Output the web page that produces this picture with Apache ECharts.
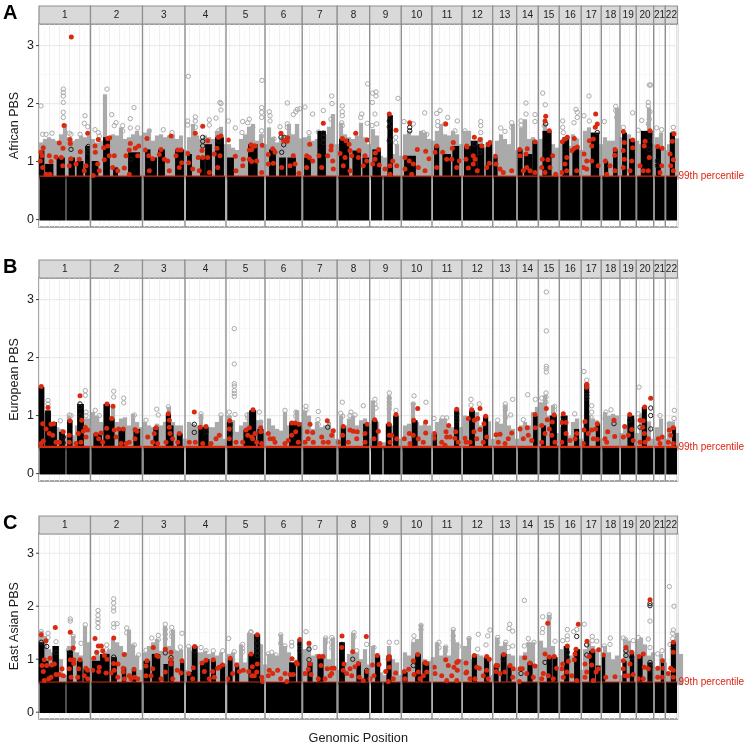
<!DOCTYPE html>
<html><head><meta charset="utf-8">
<script src="https://cdn.jsdelivr.net/npm/echarts@6/dist/echarts.min.js"></script>
<style>html,body{margin:0;padding:0;background:#fff}#c{width:744px;height:746px}</style></head>
<body><div id="c"></div>
<script>
const chromLabels=['1','2','3','4','5','6','7','8','9','10','11','12','13','14','15','16','17','18','19','20','21','22'];
const chromEnds=[51.5,103.5,146,187,226,263.2,298.2,330.7,362.3,393,423,453.7,477.7,499.3,520.3,542.3,562.3,581,597.3,614.7,626.3,638.5];
const armSegments=[[0.5,26.7],[27.3,50.8],[52.3,102.8],[104.5,145],[147,186],[188.2,225.2],[227,262.6],[264.2,297.7],[299.4,330],[332,343.5],[344.5,361.7],[363.4,392.4],[394,422.5],[424,453],[454.6,477],[478.6,498.8],[500.4,519.7],[521.2,541.7],[543.2,561.7],[563.3,580.4],[582,596.8],[598.2,614],[615.6,625.8],[627.2,638]];
const axisSpan=638.5, binStep=4;

const africanThreshold=0.75, europeanThreshold=0.46, eastAsianThreshold=0.57;

const africanGrayTops=[1.33,1.39,1.42,1.39,1.36,1.47,1.65,1.42,1.36,1.39,1.45,1.42,1.45,
1.39,1.33,1.36,2.16,1.42,1.47,1.45,1.59,1.39,1.42,1.47,1.53,1.45,
1.5,1.56,1.36,1.45,1.47,1.42,1.45,1.47,1.39,1.45,1.2,
1.42,1.65,1.45,1.39,1.45,1.42,1.39,1.53,1.6,1.3,
1.3,1.24,1.2,1.39,1.47,1.6,1.65,1.36,1.47,1.3,
1.59,1.42,1.33,1.42,1.45,1.65,1.47,1.65,1.4,
1.42,1.45,1.36,1.39,1.47,1.47,1.6,1.82,1.3,
1.67,1.47,1.42,1.39,1.45,1.67,1.42,1.3,
1.56,1.45,1.1,1.07,1.42,1.13,1.3,1.1,
1.47,1.53,1.45,1.45,1.53,1.5,1.39,
1.36,1.53,1.65,1.47,1.45,1.53,1.47,1.3,
1.53,1.53,1.27,1.36,1.42,1.24,1.27,1.1,
1.36,1.47,1.39,1.3,1.65,1.2,
1.59,1.73,1.39,1.42,1.3,
1.39,1.65,1.53,1.3,1.24,
1.3,1.24,1.27,1.47,1.4,1.2,
1.53,1.59,1.47,1.47,1.3,
1.42,1.36,1.36,1.93,
1.42,1.42,1.47,1.3,
1.36,1.3,1.39,1.93,1.3,
1.42,1.5,1.2,
1.3,1.53,1.4];
const africanBlackTowers=[[1,4.5,1.19],[7,13.5,.96],[18.5,25,1.07],[30.5,35,1.07],[38.5,43.5,1.01],[47,51,1.27],
[53.5,58.5,1.01],[65,70,1.42],[75,78,.9],[90,100,1.16],
[107,110.5,1.21],[112,117,1.07],[120,125,1.21],[137,144,1.21],
[149,152,1.13],[162,165,1.07],[167,172,1.3],[177,184,1.42],
[189,194,1.07],[210,217,1.3],
[212,217.7,1.3],[231,236,1.21],[241,246,1.07],[249.3,256,1.07],[266,271,1.07],[279.3,286,1.53],
[301,309.3,1.39],[314.3,321,1.19],[324.3,329.3,1.07],[334.3,341,1.21],[349.3,353,1.8],[366,376,1.1],
[396,399.3,1.27],[404.3,411,1.13],[414.3,419.3,1.27],[426,431,1.27],
[426,429.3,1.27],[432.7,437.7,1.36],[439.3,444.3,1.3],[447.7,452.7,1.33],[454.3,457.7,1.1],
[479.3,482.7,1.21],[486,492.7,1.13],[494.3,497.7,1.36],[504.3,511.7,1.53],[524.3,529.3,1.42],[534.3,539.3,1.24],[552.7,559.3,1.5],[566,568.3,1.01],[575,577.7,1.21],[584,587,1.5],[591,595,1.39],[602.7,612.7,1.53],[617.7,621,1.24],[631.7,635,1.5]];
const africanRed=[[32.3,3.15],[25,1.62],[20.3,1.32],[31,1.38],[31.3,1.31],[24,1.23],[4.3,1.24],[2,1.16],[3,1.1],[1.3,1.01],[3.7,.9],[10.3,1.1],[17,1.08],[12,1],[22.3,1.07],[32,1.05],[40.3,1.04],[41.3,1.17],[48.7,1.49],[37,.96],[47,.93],[45.3,.84],[7,.78],[11,.78],[23.7,.93],[30.3,.93],
[59.3,1.38],[56,1.27],[56.3,1.16],[64.7,1.24],[68.7,1.4],[70.7,1.41],[68.7,1.27],[65.3,1.03],[75.3,1.1],[70.3,1.1],[58.7,.96],[60.3,.84],[73.7,.9],[78.7,.84],[87,1.1],[91.3,1.31],[96.3,1.23],[99.7,1.27],[90.3,1.2],[98.7,1.1],[85.3,.89],[90.3,.78],[54.3,.76],
[108,1.4],[106.3,1.2],[109.7,1.1],[113.7,1.05],[122,1.21],[120.3,1.12],[132,1.44],[128.7,1.01],[125.3,1.04],[137,1.1],[142,1.2],[138.7,1.2],[142.7,.98],[110.3,.84],[130.3,.84],[140.3,.9],
[156.3,1.49],[163.7,1.61],[168.7,1.36],[163,1.19],[159.3,1.07],[148.7,1.14],[149.7,.98],[182,1.44],[179.3,1.42],[178,1.23],[181,1.1],[175.3,1.13],[168.7,1.07],[163.7,1.07],[153.7,.87],[170.3,.81],[178.7,.9],[160.3,.84],
[189.3,1.37],[196.3,1.09],[212,1.29],[215.3,1.27],[210.3,1.2],[204.3,1.04],[210.3,1.04],[197,.84],[203.7,.93],
[216,1.27],[212.7,1.21],[223.3,1.28],[217.7,1.01],[212.7,1],[222.7,.81],[233.7,1.22],[229.3,1.12],[236,1.16],[229.3,.96],[234.3,.97],[242,1.49],[244.7,1.36],[248.7,1.41],[248.3,1.35],[254.3,1.1],[251,.93],[256,.96],[242.7,.9],[260,.8],
[270.7,1.3],[267.7,1.1],[270.3,1.07],[273.7,1.01],[267.7,.9],[284.3,1.66],[292.3,1.27],[292,1.2],[280,1.1],[288.7,1.1],[293.7,1.01],[282.7,.9],[294.3,.87],
[303.3,1.4],[307,1.36],[310,1.3],[301,1.14],[311,1.19],[306,1.07],[312.7,1.1],[320,1.19],[316.7,1.49],[328.3,1.37],[319.3,1.07],[326,1.1],[327.7,1.01],[304.3,.93],[311,.84],[324.3,.93],
[339.7,1.21],[336.3,1.15],[336,1.04],[340.3,.94],[333.7,.96],[350.3,1.82],[357,1.54],[353.7,1.01],[351,.93],[346,.87],[357.7,.93],[351,.78],
[370.7,1.67],[378.3,1.21],[366,1.07],[370.3,1.01],[374.3,.96],[366,.87],[379.3,.9],[372.7,.78],[386.7,1.18],[390,1.05],[386,.84],
[406.7,1.65],[397.7,1.27],[396,1.16],[403.7,1.16],[413.3,1.23],[414.3,1.33],[412.7,1.04],[407.7,1.04],[397.7,.9],[420.3,1.01],[417.7,.9],[428,1.25],[427,1.04],[429.3,.89],
[427.7,1.27],[435.3,1.42],[441,1.38],[442.7,1.27],[434.3,1.1],[436,1.04],[434.3,.96],[447.7,.9],[451,1.33],[449.3,1.29],[450.3,.97],[438.3,.84],
[456.3,1.09],[457,.96],[461,.87],[472.7,.84],[464.3,.81],
[480.7,1.21],[488.3,1.22],[481,1.1],[496,1.34],[487,1.13],[487.7,.9],[484.3,.84],[496,.81],[491,.84],
[506.7,1.78],[506,1.7],[510.3,1.53],[503.3,1.04],[509,1.03],[513.7,1.1],[502.7,.9],[511,.9],[506,.81],[516.7,.78],
[528.3,1.42],[526.3,1.39],[523.3,1.34],[535.3,1.4],[538.3,1.25],[533,1.19],[535.3,1.23],[527.7,1.07],[526,.96],[527.7,.84],[537.7,.84],[522.7,.81],
[556.7,1.82],[558.3,1.65],[556.3,1.59],[554.3,1.39],[550.3,1.36],[552.7,1.27],[545,1.13],[547.7,1.01],[552.7,1.01],[547.7,.87],[559.3,.93],[544.3,.9],
[566.3,1.01],[576,1.21],[575.7,1.11],[571,.93],[567.7,.78],[576,.84],
[584.3,1.52],[585.3,1.33],[593.7,1.37],[593.7,1.24],[584.3,1.19],[585.3,1.04],[592.7,1.01],[584.3,.9],[591,.84],
[611,1.53],[606,1.35],[605.3,1.27],[601,.93],[610.3,1.07],[604.3,.84],[609.3,.84],
[618.7,1.26],[623.3,1.23],[622.7,.93],[621,.81],
[635,1.48],[633.3,1.35],[631,1.13],[634.3,1.03],[631.7,.93],[634.3,.84]];
const africanGrayRings=[[2,1.96],[3.7,1.47],[7,1.47],[13,1.49],[24.3,2.25],[24.3,2.19],[24.3,2.13],[24.3,2.02],[24.3,1.85],[24.3,1.76],[30.3,1.49],[32,1.47],[46,1.79],[45.3,1.66],[48.7,1.6],[41,1.47],
[68,2.25],[72.7,1.81],[77,1.67],[75.3,1.62],[83.7,1.62],[83.7,1.53],[91.3,1.74],[95,1.93],[91.3,1.58],[98.7,1.58],[56,1.55],[59.3,1.5],[60.3,1.44],
[110.3,1.53],[124.3,1.55],[133,1.5],
[149.3,2.47],[148.7,1.7],[148.7,1.63],[156.3,1.77],[156.3,1.7],[156.3,1.59],[170.3,1.72],[170.3,1.63],[177,1.75],[181,2.02],[182,2],[182,1.89],[179.7,1.53],
[189.3,1.7],[196.3,1.58],[203.7,1.69],[208.7,1.67],[203,1.5],[210.3,1.73],[213.7,1.59],
[223,2.4],[222.7,1.93],[222.7,1.85],[222.7,1.76],[222.7,1.53],[222.7,1.44],[230.3,1.86],[231,1.79],[231,1.7],[235,1.39],[241,1.6],[248.3,2.01],[248.3,1.65],[248.3,1.59],[254.3,1.81],[256.7,1.86],[258.3,1.9],[261,1.91],[266,1.94],[273.7,1.82],[270,1.5],[279.3,1.51],[284.3,1.88],[292.7,2.13],[293,2],[292,1.73],[303.3,1.96],[303.3,1.86],[303.3,1.79],[302.7,1.67],[303.3,1.62],[322.7,1.82],[321.7,1.76],[328.3,1.66],[328.7,2.34],[337,2.2],[333.7,2.18],[337,2.13],[333.3,2.02],[336,1.82],[337.7,1.65],[333,1.62],[359,2.09],[356.7,1.42],[356.7,1.33],[365,1.69],[374.3,1.65],[385.7,1.84],[384.3,1.5],[387.7,1.47],[398.7,1.69],[398.7,1.62],[401,1.88],[397.7,1.83],[408.7,1.76],[418.3,1.7],[416,1.53],[406,1.65],
[426,1.53],[441.7,1.69],[441.7,1.62],[441.7,1.5],[461.7,1.58],[466,1.52],[472.7,1.67],[472.7,1.59],[487,2.01],[487,1.82],[482,1.7],[482,1.63],[496,1.81],[496,1.69],[503.7,2.18],[506.3,1.98],[505.3,1.62],[523.7,1.7],[523.7,1.59],[524.3,1.5],[537,1.9],[538.3,1.85],[538.3,1.76],[535,1.67],[545,1.79],[550.3,1.7],[550,2.13],[565.3,1.69],[576.7,1.95],[576.7,1.88],[577.7,1.76],[593.7,1.84],[584.3,1.59],[602.7,1.71],[599.3,1.54],[610.3,2.32],[611.7,2.32],[609.3,2.02],[609.3,1.96],[611,1.86],[610.3,1.73],[609.3,1.65],[622.7,1.55],[617.7,1.58],[634.3,1.59]];
const africanBlackRings=[[32,1.21],[49.3,1.26],[49.3,1.16],[92,1.04],[163.7,1.42],[163.7,1.35],[163.7,1.27],[179.7,1.35],[245,1.42],[242,1.42],[244.7,1.29],[242.7,1.16],[284.3,1.49],[284.3,1.42],[284.3,1.33],[350.3,1.7],[350.3,1.6],[370.7,1.59],[370.7,1.53],[350.3,1.36],[435.3,1.3],[441,1.16],[506.7,1.65],[610.3,1.36],[610.3,1.21],[610.3,1.07],[618.3,1.01],[618.3,.93],[558.3,1.5]];

const europeanGrayTops=[1.06,1.05,1.06,.83,.8,.77,.66,1,.66,.83,.95,.95,.95,
1.06,1,.89,.83,.89,1.18,.89,.95,.97,.83,1.03,.89,.8,
.89,.83,.8,.86,.83,.89,1.15,.89,.83,.83,.6,
.89,.86,.83,1.03,.83,.8,.8,.89,1,.6,
1,.92,.72,.83,.89,1.06,1,.92,.92,.7,
.95,.83,.77,.74,1.06,.83,.89,1.09,.8,
1.09,1,.77,.89,.8,.83,.89,.77,.6,
1,.83,.95,1,.83,.92,.95,.6,
1.26,.89,.54,.54,1.35,.83,1,.6,
.83,.86,1.23,.89,.83,.89,.83,
.7,.89,.95,.95,.83,.8,1.06,.8,
1,.97,.95,1.06,.83,1,.9,.6,
.89,.86,1.18,.83,.77,.6,
.83,.89,.83,1.06,1.15,
1.23,1.35,1,1.18,.7,
.8,1,.66,.89,.95,.6,
.89,1,.95,.9,.6,
1.06,1,1.03,1,
.7,.8,.9,.95,
.7,1.03,.9,.9,.6,
.8,.95,.6,
.89,.9,.7];
const europeanBlackTowers=[[.5,4.5,1.49],[7,11,1.09],[12,17,.89],[21,25,.72],[29,32.7,.92],[39,44,1.2],
[55.3,62,.69],[65.3,70,1.2],[70.3,74.7,.95],[80.3,85.3,.77],[95.3,100.3,.77],
[115.3,118.7,.8],[127.7,131,1.03],[130.3,133.7,.83],[138.7,142.7,.69],
[160.3,168.7,.8],[188.7,192.7,.89],[205.3,210.3,.75],[212,216.3,1.09],
[211,216,1.09],[219.3,223.7,.77],[251,262,.88],[302.7,306,.8],[325,330.3,.86],[333.7,337.7,.92],[347.7,351.7,.86],[355,358.7,1],[373.7,377.7,.92],[393.7,397,.69],[416,419.3,1.09],
[431,435,1.09],[445,448.3,.98],[495,498.3,1],[503,506,.83],[511.7,517,1],[522.7,527.7,1],[536,539.3,.77],[546,549.3,1.55],[557.7,560.3,.86],[589.3,594.3,1],[603.7,607,1.15],[634,636,.8]];
const europeanRed=[[2.3,1.5],[3.7,.86],[9,1.14],[7,.77],[12,.85],[14.7,.86],[10.3,.69],[13.7,.66],[4.3,.56],[2,.52],[17,.54],[24.3,.72],[20.3,.54],[31,.91],[30.3,.66],[30.3,.54],[41,1.34],[42.7,.92],[39.3,.69],[46.3,.8],[48.7,.75],[44.3,.73],[47,.63],[37,.52],[42,.54],
[68,1.2],[74,1.16],[72.7,.95],[67.7,.78],[57,.68],[62,.7],[59.7,.6],[75.3,.75],[79.7,.77],[84.3,.77],[77,.63],[68.7,.63],[82,.52],[96,.76],[98,.73],[96,.6],[90.3,.54],[63.7,.54],[87,.52],
[117,.79],[129.3,1.03],[130.3,.92],[130.3,.8],[131,.69],[115.3,.69],[140.3,.69],[133.7,.6],[108.7,.63],[113.7,.54],[127,.54],[138.7,.54],[118.7,.52],
[155.3,1.06],[161.3,.8],[167,.81],[156.3,.54],[150.3,.54],[163.7,.52],[180.3,.66],[177,.6],[172,.52],
[190.7,.91],[190.3,.77],[190.3,.6],[197,.54],[207,.75],[210.3,.79],[214,1.1],[208.7,.66],[213.7,.6],[203.7,.54],
[221.7,.79],[221.7,.72],[216,.69],[212.7,.63],[217.7,.54],[222.7,.52],
[229.3,.69],[231,.6],[234.3,.6],[236,.54],[246,.52],[252.7,.87],[256,.87],[260,.85],[256.7,.72],[252.7,.66],[249.3,.57],[259.3,.54],
[271,.85],[268.3,.72],[273.7,.71],[269.3,.6],[266,.54],[274.3,.54],[288.3,.91],[294.3,.74],[292.7,.66],[282.7,.63],[289.3,.54],[284.3,.54],
[304.3,.81],[311,.75],[314.3,.73],[318.3,.72],[303.7,.66],[317.7,.6],[309.3,.54],[326,.69],[328.3,.85],[326,.54],[299.3,.54],
[335.7,.93],[339.3,.73],[335,.6],[341,.52],[350,.85],[357,1.02],[350.3,.66],[352.7,.66],[351,.54],[357.7,.6],
[374.7,.92],[378.7,1.12],[386.7,.89],[386.7,.7],[370.3,.69],[365.3,.6],[374.3,.66],[379.3,.6],[384.3,.54],[371,.52],
[395.3,.69],[395,.61],[407,.72],[409.7,.83],[402.7,.54],[407.7,.63],[411,.63],[406,.49],[417.7,1.11],[416.7,.72],[416,.61],[419.3,.54],
[429.3,.95],[426,.61],[427,.54],[432.7,1.1],[435.3,.92],[438.7,.95],[441,1.12],[445,.86],[446.7,.99],[435,.72],[441,.76],[437.7,.6],[447.7,.63],[444.3,.54],[431,.54],
[457,.67],[461,.68],[472.7,.7],[469.3,.6],[459.3,.54],[466,.52],
[481,.77],[488.3,.79],[496,1.02],[496.3,.79],[489.3,.66],[484.3,.6],[492.7,.57],
[507.3,1.12],[508.3,.93],[515.3,1.01],[513.3,.89],[502.7,.83],[510.3,.77],[506,.69],[512.7,.66],[502.7,.54],[516,.54],
[524.3,1.03],[522.7,.88],[527,.88],[527,.69],[531,.57],[522.7,.54],[537.7,.69],[536,.6],
[547.7,1.54],[547.7,1.49],[546,.9],[545,.75],[549.3,.69],[552.7,.75],[556.7,.77],[558.3,.86],[558.3,.59],[554.3,.6],[544.3,.52],
[568.7,.72],[566,.6],[567.7,.54],[575,.92],[575.7,.64],
[585.7,.81],[590.7,1.02],[592.7,.76],[584.3,.63],[589.3,.66],[594.3,.57],
[605.7,1.15],[611.7,1.3],[601,.92],[604.3,.91],[603.7,.8],[605.3,.69],[601,.54],[609.3,.6],[606,.54],
[619.3,.6],[623.3,.63],[621,.52],[634.3,.79],[630.3,.75],[631.7,.66],[629.3,.54],[634.3,.52]];
const europeanGrayRings=[[9,1.26],[9,1.2],[21.3,.91],[30.3,1.01],[32,1],[46.3,1.43],[46.3,1.35],[47,1.06],[47,1],[56.3,1.09],[60.3,1],[74.7,1.42],[74.7,1.32],[84.7,1.3],[84.7,1.22],[95.3,1.01],[117.7,1.11],[119.3,1.01],[107,.92],[129.3,1.15],[162,1.03],[162,.96],[182,1.01],[190.3,1.06],[196,1.02],[195.3,2.5],[195.3,1.89],[195.3,1.55],[195.3,1.51],[195.3,1.43],[195.3,1.38],[195.3,1.33],[190.3,.97],[208,1.01],[208.7,.96],
[220.3,1.06],[221.7,.89],[246,1.09],[257,1.06],[256.7,.99],[267,1.16],[267,1.09],[279.3,1.07],[279,.93],[279.3,.85],[303.3,1.23],[301.7,1.04],[303.7,.99],[312,1.06],[311,1],[316,1.01],[324.3,1.17],[336,1.28],[336,1.2],[337,1.13],[350.3,1.39],[350.3,1.3],[350.3,1.23],[350.3,1.18],[350.3,1.12],[357,1.09],[375,1.34],[374.3,1.2],[387,1.23],[395,.95],[403.7,.96],[407.7,.96],
[432,1.28],[432,1.18],[440.3,1.2],[466.3,1.2],[466.3,1.15],[466.3,1.1],[466.7,.97],[471.7,1.01],[473.7,1.28],[458.7,.92],[484.3,.93],[488.7,1.36],[496.3,1.28],[502.7,1.3],[507.3,3.13],[507.3,2.46],[507.3,1.85],[507.3,1.81],[507.3,1.75],[507,1.39],[507,1.32],[507,1.23],[515.7,1.16],[515.7,1.09],[535.7,1.03],[545,1.76],[547.7,1.61],[552.7,1.17],[552.7,1.06],[552,.97],[557.7,.88],[567,1.06],[572,1.1],[566,.95],[575,.97],[600,1.49],[599.3,1.03],[621,1],[635.3,1.09],[635,.95],[630.3,.86]];
const europeanBlackRings=[[41,1.2],[41,1.15],[41,1],[24.3,.53],[24.3,.63],[288.7,.8],[155.3,.85],[155.3,.71],[167,.72],[191,.84],[191,.69],[575,.86],[590.7,.92],[601,.8],[611.7,1.13],[611.7,1],[611.7,.77],[524.3,.97],[417.7,.92],[417.7,1.03],[547.7,1.4],[547.7,1.35],[547.7,1.3]];

const eastAsianGrayTops=[1.53,1.44,1.19,1.13,1.07,1,.7,1.25,1.44,1.13,1.07,1.63,1.32,
1,1.13,1.07,1.13,1.19,1.38,1.32,1.25,1.13,1.56,1.28,1.07,.8,
1.13,1.25,1.32,1.38,1.16,1.63,1.25,1.56,1.16,1.19,.8,
1.22,1.16,1.13,1.13,1.16,1.1,1.13,1.07,1.13,.9,
1.1,1.13,.94,1.28,.94,1.5,1.47,1.19,1.28,.9,
1.1,1.1,1.07,1.47,1.25,1.13,.94,.94,.9,
1.19,1.28,1.07,1.1,1.1,1.41,1,1.41,.8,
1.25,.94,1.1,1.5,1.13,1,1.19,.9,
1.25,1.1,.75,.7,1.25,1,.94,.7,
1.13,1.07,1.32,1.38,1.66,1,.97,
1.04,1.32,1.07,1.25,1.07,1.56,1.32,1,
1.25,1.41,1,1.1,1.07,1.04,.97,.7,
1.41,1.25,1.32,1.1,1.07,
.8,1.07,1.13,1.32,1.32,.9,
1.35,1.22,1.84,1.25,.8,
1.19,1.25,1.07,1.07,1.07,.8,
1.19,1.32,1.25,1.19,.8,
1.25,1.13,1,1.07,.7,
1.38,1.35,1.07,1.35,
1.41,1.28,1.07,1.13,.8,
1.1,.94,.7,
1.28,1.5,1.1];
const eastAsianBlackTowers=[[.5,4.5,1.32],[5.5,8.7,.97],[9.7,13,.88],[14.3,19,1.25],[28.7,33,1.16],[38.7,42.7,.97],[45.3,50.3,.82],
[53.7,62,.97],[62,69.7,1.1],[73,77,1.04],[83.7,86.3,.85],[93.7,96.3,.79],
[105.3,110.3,.97],[113.7,120.3,1.1],[125.3,128,.91],[130.3,133.7,.97],[142,144.7,.97],
[148.7,152,.76],[153.7,157.7,1.25],[162,165.3,.94],[167,169.7,1],[173,176,.97],[182,185.3,.91],
[189.7,192.7,1],[197,199.3,.88],[210.3,215.3,1.1],
[211,212.7,1.07],[216,220.3,1.47],[251,256,.94],[259.3,262.7,1.38],[269.3,272.7,.94],[279.3,283.7,1.07],[301,305,1.32],[318.3,321,.94],[326,328.7,.79],[337,340.3,1.07],[348.3,351.7,1.07],[364.3,367.7,.76],[377,381,1.1],[384.3,389.3,.94],
[433.7,437,1.07],[446,449.3,1.04],[455.3,458.7,.88],[462.7,466.7,1.1],[469.3,471.7,.88],[489.3,492.7,.94],[508.7,512,1.04],[514.3,517.7,1.04],[526,529.3,1.25],[536,540.3,1.19],[551,555.3,1.16],[557.7,561,.88],[563.3,565.3,1.07],[584.3,586.7,.97],[591.7,594.3,1.13],[599.3,602.7,1.07],[609.3,612.7,.94],[622.7,624.3,.97],[632.7,636,1.32]];
const eastAsianRed=[[2.3,1.46],[7,1.35],[16.3,1.6],[3,.88],[5.3,.99],[7.7,.88],[11,1.02],[12.7,.89],[15.3,.91],[23,.82],[4.3,.77],[12,.66],[17,.71],[20.3,.71],[9.7,.63],[5.3,.6],[24.3,.69],[31.3,1.51],[34.3,1.21],[31.3,.99],[34.7,.99],[34.7,.92],[41,.99],[30.3,.82],[39.7,.82],[47,.83],[48.7,.79],[32,.66],[38.7,.66],[45.3,.69],[48.7,.63],
[56,1.39],[74.7,1.4],[85.3,1.09],[59.3,1.25],[62.3,1.25],[57.7,1.13],[54.7,1.02],[63.7,1.16],[65.3,1.07],[68,1],[74.7,.92],[79,.91],[60.3,.85],[53.7,.79],[59.7,.77],[67,.74],[72,.74],[75.3,.79],[84.3,.83],[84.3,.76],[95,.81],[90.3,.69],[85.3,.63],[95.3,.66],[98.7,.63],[78.7,.66],[92,.63],
[114.3,1.22],[126.3,1.19],[117.7,1.07],[119.3,1.05],[108,.97],[107,.87],[132,1.13],[132,.99],[132,.91],[143,.97],[113.7,.82],[126.3,.76],[138.3,.79],[142,.74],[112,.69],[107,.69],[122,.63],[133.7,.63],
[155.7,1.24],[163,.93],[167,.98],[174.3,.99],[183.7,.89],[149.7,.73],[154.3,.84],[165.3,.77],[178.7,.83],[173.7,.77],[180.3,.85],[153.7,.63],[170.3,.63],[175.3,.66],
[191.3,1.02],[197.7,.89],[200.3,.77],[204.3,.79],[209.7,.77],[212,1.1],[193.7,.73],[188.7,.63],[215.3,.69],
[218.3,1.46],[213.3,.86],[218.3,.91],[217.7,.76],[212.7,.69],[222.7,.66],[223.7,.58],
[230.3,.79],[229.3,.69],[233.7,.73],[238.7,.79],[246,.73],[241.7,.63],[247.7,.58],[253,1.01],[257.3,.94],[261,1.37],[258.3,.91],[251,.71],[254.3,.71],
[270,1.3],[271,.91],[269.3,.81],[266,.73],[272,.71],[280,1.05],[284,1.05],[282,.88],[288.3,.82],[292.7,.83],[295.3,.83],[292.7,.73],[279.3,.63],[286,.63],[291,.69],
[303,1.44],[302.7,1.22],[305,.91],[304.3,.79],[311,.82],[307.7,.73],[313.7,1.14],[316,.86],[319.3,.92],[312.7,.69],[320.3,.66],[327.3,1.43],[328.3,.77],[324.3,.6],
[333.3,.89],[338.3,1.07],[340,.9],[335,.69],[331,.63],[346.7,.77],[350.3,1.05],[349.3,1],[350.3,.85],[356.7,.74],[354.3,.63],[349.3,.58],
[365.3,.77],[369.7,.81],[374.3,.97],[378.7,1.09],[375,.71],[366,.63],[379.3,.76],[381,.63],[386,.94],[387.7,.92],[387.7,.76],[384.3,.69],
[395.3,.85],[406.7,.99],[417.7,.94],[419.3,.96],[409.3,.88],[415,.85],[418.3,.79],[396,.73],[402.7,.69],[412.7,.69],[407.7,.6],[417.7,.6],[427,.93],[427.7,.76],
[427,.74],[435.3,1.07],[437.7,.85],[440.3,.83],[431,.63],[436,.63],[444.3,.69],[447.7,1.05],[450.3,1],[447.7,.79],[449.3,.63],
[457,.88],[458.7,.88],[457,.77],[461,.73],[464.7,1.09],[466,.76],[471,.88],[474.3,.82],[473.7,.66],[480.3,.58],
[481,.82],[483.3,.82],[485.7,1.03],[487.7,.73],[491,.93],[496,.87],[494.3,.66],
[508.7,1.68],[506,1.1],[510.3,1.04],[515.3,1.05],[517.7,.83],[504.3,.73],[509.3,.69],[514.3,.63],[502.7,.63],
[539.3,1.66],[528.3,1.25],[523.7,.91],[529.3,.96],[522.7,.82],[537,1.19],[536,1.1],[535.3,.99],[527.7,.76],[537.7,.6],[532.7,.69],[524.3,.66],
[548,1.34],[553.7,1.16],[559.7,1.18],[550.3,1.05],[546,.91],[552.7,.89],[559.3,.82],[547.7,.76],[557,.76],[546,.66],[554.3,.6],
[564.3,1.08],[566.7,.66],[576,.67],
[584.3,.97],[587,1.22],[584.3,.82],[586,.69],[592.7,1.13],[591,.91],[594.3,.71],[589.3,.69],
[611,2.12],[604.3,1.1],[600,1.05],[605.3,.85],[609.3,.82],[599.3,.63],[604.3,.63],
[618.7,.83],[623.7,.97],[624.3,.83],[618.7,.66],[623.3,.66],
[634.3,1.32],[634.3,1.13],[631.7,.83],[634.3,.79],[629.3,.73],[634.3,.66]];
const eastAsianGrayRings=[[2.3,1.52],[9,1.49],[9,1.41],[31.3,1.76],[31.3,1.72],[34.3,1.43],[34.3,1.32],[46.3,1.65],[42,1.3],[17,1.33],[29.3,1.17],
[74.7,2.14],[74.7,2.06],[74.7,1.97],[74.7,1.91],[74.7,1.67],[78,1.67],[74.7,1.6],[59,1.92],[59,1.83],[59,1.75],[59,1.69],[59,1.6],[67.7,1.27],[67.7,1.18],[87.7,1.59],[87.7,1.5],[95.3,1.27],[99.7,1.08],
[112.7,1.4],[107,1.17],[119.3,1.45],[119.3,1.37],[126.3,1.66],[126.3,1.56],[126.3,1.47],[126.3,1.38],[132.7,1.6],[132.7,1.5],[132.7,1.43],[143,1.49],[141.3,1.23],[135.3,1.14],[149.7,1.24],[162,1.22],[167,1.16],[174.3,1.16],[183.7,1.16],[189.7,1.39],[195.3,1.14],[203.7,1.28],[203.7,1.2],[203.7,1.14],[212,1.52],[212,1.44],[212,1.33],
[211.7,1.5],[221,1.24],[229.3,1.1],[232.7,1.13],[237,1.08],[241.7,1.46],[241.7,1.3],[246,1.25],[252.7,1.32],[252.7,1.25],[267,1.52],[276,1.22],[286.7,1.4],[286.7,1.32],[292.7,1.41],[292.7,1.32],[292.7,1.22],[315,1.5],[315,1.42],[317.7,1.16],[327.7,1.28],[335,1.22],[350.3,1.32],[357.7,1.32],[375,1.44],[375,1.35],[375,1.25],[382,1.64],[382,1.56],[400,1.32],[400,1.22],[406.7,1.23],[406.7,1.16],[414.3,1.56],[414.3,1.44],[414.3,1.35],[419.3,1.24],
[430,1.39],[439.3,1.47],[448.7,1.44],[451,1.55],[447,1.27],[438.7,1.19],[458.7,1.41],[458.7,1.32],[466.7,1.32],[470.7,1.66],[470,1.58],[473.7,1.53],[473.7,1.25],[469.3,1.22],[485.3,2.11],[485.3,1.25],[489.3,1.39],[489.3,1.28],[495,1.32],[503.7,1.8],[503.7,1.58],[503.3,1.5],[510.3,1.84],[510.3,1.78],[516,1.34],[528.3,1.56],[528.3,1.44],[528.3,1.37],[523.7,1.35],[534.7,1.52],[537.7,1.56],[545.3,1.66],[553.3,1.43],[553.3,1.35],[557.7,1.34],[547.7,1.28],[565.3,1.25],[571.3,1.4],[571,1.28],[584.3,1.4],[586.7,1.37],[594.3,1.35],[599.3,1.41],[599.3,1.32],[611,1.72],[609.3,1.38],[611,1.22],[623,1.16],[618.7,1.1],[630.3,2.37],[635,2],[634.3,1.55],[633.7,1.49],[633.7,1.39],[631,1.28]];
const eastAsianBlackRings=[[7.7,1.24],[2.3,1.32],[17,1.13],[31.3,1.13],[74.7,1.04],[126.3,1.12],[132,1.03],[155.7,1.16],[218.3,1.35],[218.3,1.25],[218.3,1.16],[218.3,1.07],[261,1.28],[261,1.16],[270,1.19],[270,.99],[302.7,1.28],[313.7,1],[327.7,.79],[374.3,.88],[464.3,1],[482,.73],[506,.94],[537.7,1.43],[528.3,1.13],[528.3,1.04],[547.7,1.27],[547.7,1.08],[587,1.16],[587,1.07],[592.7,1.04],[611,2.05],[611,2.01],[611,.94],[611,.85],[634.3,1.2]];

const tickValues=[0,1,2,3];
const panelNames=['African PBS','European PBS','East Asian PBS'];
const percentileLabel='99th percentile';
const xTitle='Genomic Position';

const panels=[
 {letter:'A',name:panelNames[0],thr:africanThreshold,gray:africanGrayTops,towers:africanBlackTowers,red:africanRed,rings:africanGrayRings,bRings:africanBlackRings,strip:6,top:24,h:203,lw:1.2},
 {letter:'B',name:panelNames[1],thr:europeanThreshold,gray:europeanGrayTops,towers:europeanBlackTowers,red:europeanRed,rings:europeanGrayRings,bRings:europeanBlackRings,strip:260,top:278,h:203,lw:2.4},
 {letter:'C',name:panelNames[2],thr:eastAsianThreshold,gray:eastAsianGrayTops,towers:eastAsianBlackTowers,red:eastAsianRed,rings:eastAsianGrayRings,bRings:eastAsianBlackRings,strip:516,top:533.5,h:187.6,lw:1.2}
];
const FONT='"Liberation Sans",Arial,sans-serif', LEFT=39;
const grid=[],xAxis=[],yAxis=[],series=[],graphic=[];
function bandRender(getX0,getX1,getY0,getY1,fill,pad){
  return (params,api)=>{
    const a=api.coord([getX0(api),getY1(api)]), b=api.coord([getX1(api),getY0(api)]);
    const p=pad||0;
    return {type:'rect',shape:{x:a[0]-p,y:a[1],width:b[0]-a[0]+2*p,height:b[1]-a[1]},style:{fill}};
  };
}
const ringStyle=c=>({color:'rgba(255,255,255,0)',borderColor:c,borderWidth:1,opacity:1});
panels.forEach((p,i)=>{
  const gi=i*2, si=i*2+1;
  grid.push({left:LEFT,width:axisSpan,top:p.top,height:p.h,show:true,borderColor:'#8a8a8a',borderWidth:1.5,backgroundColor:'#fff'});
  grid.push({left:LEFT,width:axisSpan,top:p.strip,height:18,show:false});
  xAxis.push({gridIndex:gi,type:'value',min:0,max:axisSpan,interval:10,
    name:i===2?xTitle:'',nameLocation:'middle',nameGap:13,nameTextStyle:{fontFamily:FONT,fontSize:12.7,color:'#1a1a1a'},
    axisLine:{show:false},axisTick:{show:false},axisLabel:{show:false},
    splitLine:{show:true,lineStyle:{color:'#efefef',width:1}},
    minorTick:{show:false,splitNumber:2},minorSplitLine:{show:true,lineStyle:{color:'#f7f7f7',width:.7}}});
  xAxis.push({gridIndex:si,type:'value',min:0,max:axisSpan,show:false});
  yAxis.push({gridIndex:gi,type:'value',min:-0.128,max:3.372,interval:1,
    name:p.name,nameLocation:'middle',nameGap:18,nameRotate:90,nameTextStyle:{fontFamily:FONT,fontSize:12.5,color:'#1a1a1a'},
    axisLine:{show:false},axisTick:{show:false},axisLabel:{show:false},splitLine:{show:false}});
  yAxis.push({gridIndex:si,type:'value',min:0,max:1,show:false});
  const axes={xAxisIndex:gi,yAxisIndex:gi};
  const ticks=tickValues.map(v=>[v]);
  series.push({type:'custom',...axes,z:1,silent:true,clip:false,data:ticks,encode:{y:0},renderItem:(prm,api)=>{
    const v=api.value(0), c0=api.coord([0,v]), c1=api.coord([axisSpan,v]), m0=api.coord([0,v+.5]), m1=api.coord([axisSpan,v+.5]);
    return {type:'group',children:[
      {type:'line',shape:{x1:c0[0],y1:c0[1],x2:c1[0],y2:c1[1]},style:{stroke:'#ebebeb',lineWidth:1.1}},
      {type:'line',shape:{x1:c0[0]-3,y1:c0[1],x2:c0[0],y2:c0[1]},style:{stroke:'#444',lineWidth:1}},
      {type:'text',x:c0[0]-5,y:c0[1],style:{text:String(v),align:'right',verticalAlign:'middle',font:'12.5px '+FONT,fill:'#1a1a1a'}},
      v<3?{type:'line',shape:{x1:m0[0],y1:m0[1],x2:m1[0],y2:m1[1]},style:{stroke:'#f4f4f4',lineWidth:.7}}:{type:'group'}
    ]};
  }});
  series.push({type:'custom',...axes,z:2,silent:true,data:p.gray.map((t,k)=>[k*binStep+binStep/2,t]),encode:{x:0,y:1},
    renderItem:bandRender(a=>a.value(0)-2.1,a=>a.value(0)+2.1,()=>p.thr-0.06,a=>a.value(1),'#aaaaaa')});
  series.push({type:'scatter',...axes,z:3,silent:true,symbol:'circle',symbolSize:4.4,itemStyle:ringStyle('#ababab'),data:p.rings});
  series.push({type:'custom',...axes,z:4,silent:true,data:p.towers,encode:{x:[0,1],y:2},
    renderItem:bandRender(a=>a.value(0),a=>a.value(1),()=>p.thr-0.02,a=>a.value(2),'#000',0.9)});
  series.push({type:'scatter',...axes,z:5,silent:true,symbol:'circle',symbolSize:4.4,itemStyle:ringStyle('#1c1c1c'),data:p.bRings});
  series.push({type:'custom',...axes,z:6,silent:true,data:armSegments,encode:{x:[0,1]},
    renderItem:bandRender(a=>a.value(0),a=>a.value(1),()=>-0.015,()=>p.thr,'#000')});
  series.push({type:'line',...axes,z:7,silent:true,symbol:'none',data:[[0,p.thr],[axisSpan,p.thr]],lineStyle:{color:'#d9290f',width:p.lw},
    endLabel:{show:true,formatter:percentileLabel,color:'#e0230f',fontFamily:FONT,fontSize:10,distance:1}});
  series.push({type:'scatter',...axes,z:8,silent:true,symbol:'circle',symbolSize:5,itemStyle:{color:'#d9290f',opacity:1},data:p.red});
  series.push({type:'custom',...axes,z:9,silent:true,clip:false,data:chromEnds.slice(0,-1).map(v=>[v]),encode:{x:0},
    renderItem:(prm,api)=>{const a=api.coord([api.value(0),-0.128]),b=api.coord([api.value(0),3.372]);
      return {type:'line',shape:{x1:a[0],y1:a[1],x2:b[0],y2:b[1]},style:{stroke:'#8f8f8f',lineWidth:1.4}};}});
  series.push({type:'custom',xAxisIndex:si,yAxisIndex:si,z:10,silent:true,clip:false,
    data:chromLabels.map((l,k)=>[k?chromEnds[k-1]:0,chromEnds[k],l]),encode:{x:[0,1]},
    renderItem:(prm,api)=>{const a=api.coord([api.value(0),1]),b=api.coord([api.value(1),0]);
      return {type:'group',children:[
        {type:'rect',shape:{x:a[0],y:a[1],width:b[0]-a[0],height:b[1]-a[1]},style:{fill:'#d9d9d9',stroke:'#8f8f8f',lineWidth:1.2}},
        {type:'text',x:(a[0]+b[0])/2,y:(a[1]+b[1])/2,style:{text:chromLabels[prm.dataIndex],align:'center',verticalAlign:'middle',font:'10px '+FONT,fill:'#222'}}
      ]};}});
  graphic.push({type:'text',left:3,top:p.strip-3,style:{text:p.letter,font:'bold 20px '+FONT,fill:'#000'},silent:true});
});
const chart=echarts.init(document.getElementById('c'),null,{renderer:'canvas'});
chart.setOption({animation:false,backgroundColor:'#fff',grid,xAxis,yAxis,series,graphic});
</script>
</body></html>
